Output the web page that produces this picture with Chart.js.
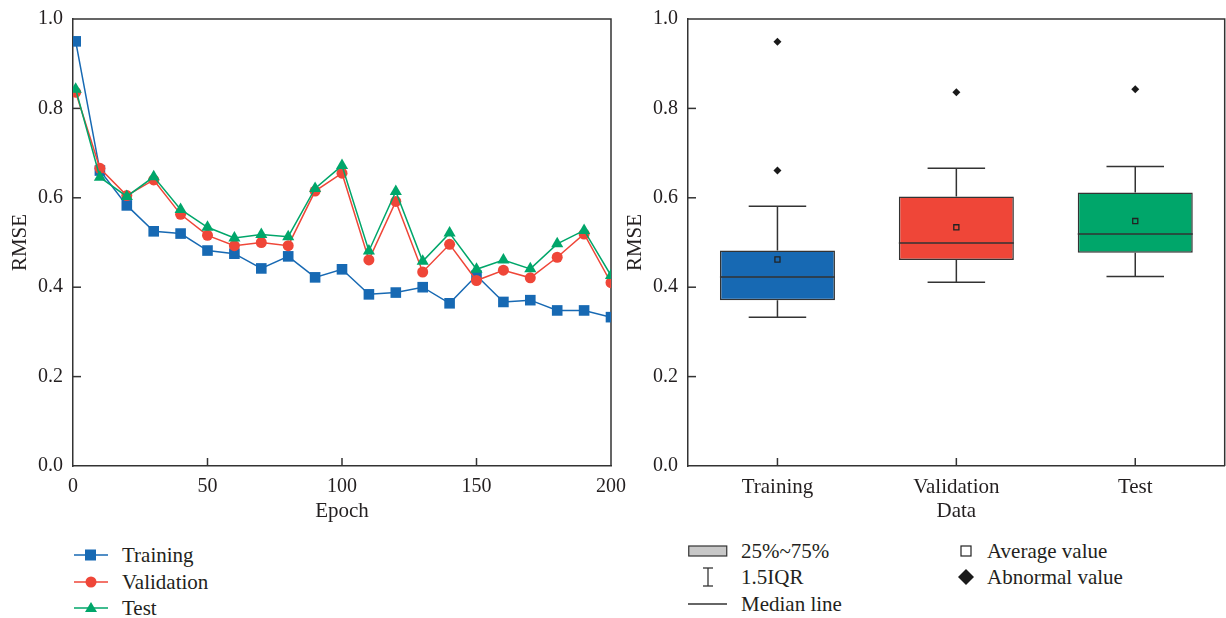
<!DOCTYPE html>
<html>
<head>
<meta charset="utf-8">
<script src="https://cdn.jsdelivr.net/npm/chart.js@4.4.0/dist/chart.umd.min.js"></script>
<style>
    body { margin: 0; background: #fff; width: 1226px; height: 618px; overflow: hidden; position: relative;
           font-family: 'Liberation Serif', serif; color: #231f20; }
    #lineWrap { position: absolute; left: 0; top: 0; width: 630px; height: 530px; }
    #boxWrap { position: absolute; left: 615px; top: 0; width: 615px; height: 530px; }
    .row { position: absolute; font-size: 21px; height: 26px; line-height: 26px; white-space: nowrap; }
    .row svg { position: absolute; top: 0; }
</style>
</head>
<body>
<div id="lineWrap"><canvas id="lineChart"></canvas></div>
<div id="boxWrap"><canvas id="boxChart"></canvas></div>

<!-- legend of the line chart -->
<div class="row" style="left:74px; top:542px;">
    <svg width="36" height="26"><line x1="0" y1="13" x2="34" y2="13" stroke="#1769b3" stroke-width="1.5"/><rect x="11" y="7.5" width="11" height="11" fill="#1769b3"/></svg>
    <span style="margin-left:48px">Training</span>
</div>
<div class="row" style="left:74px; top:569px;">
    <svg width="36" height="26"><line x1="0" y1="13" x2="34" y2="13" stroke="#ef4638" stroke-width="1.5"/><circle cx="17" cy="13" r="5.5" fill="#ef4638"/></svg>
    <span style="margin-left:48px">Validation</span>
</div>
<div class="row" style="left:74px; top:595px;">
    <svg width="36" height="26"><line x1="0" y1="13" x2="34" y2="13" stroke="#00a66a" stroke-width="1.5"/><polygon points="17,7 23,17 11,17" fill="#00a66a"/></svg>
    <span style="margin-left:48px">Test</span>
</div>

<!-- legend of the box chart -->
<div class="row" style="left:688px; top:538px;">
    <svg width="42" height="26"><rect x="0.75" y="8" width="38" height="10" fill="#c8c8c8" stroke="#333" stroke-width="1.2"/></svg>
    <span style="margin-left:53px">25%~75%</span>
</div>
<div class="row" style="left:688px; top:564px;">
    <svg width="42" height="26"><line x1="20" y1="4" x2="20" y2="22" stroke="#333" stroke-width="1.3"/><line x1="15" y1="4" x2="25" y2="4" stroke="#333" stroke-width="1.3"/><line x1="15" y1="22" x2="25" y2="22" stroke="#333" stroke-width="1.3"/></svg>
    <span style="margin-left:53px">1.5IQR</span>
</div>
<div class="row" style="left:688px; top:591px;">
    <svg width="42" height="26"><line x1="0" y1="13" x2="39" y2="13" stroke="#333" stroke-width="1.3"/></svg>
    <span style="margin-left:53px">Median line</span>
</div>
<div class="row" style="left:958px; top:538px;">
    <svg width="20" height="26"><rect x="3" y="8" width="10" height="10" fill="none" stroke="#222" stroke-width="1.2"/></svg>
    <span style="margin-left:29px">Average value</span>
</div>
<div class="row" style="left:958px; top:564px;">
    <svg width="20" height="26"><polygon points="8,5 16,13 8,21 0,13" fill="#1a1a1a"/></svg>
    <span style="margin-left:29px">Abnormal value</span>
</div>

<script>
// ============================================
// DATA
// ============================================

// Line chart: RMSE per epoch
const epochs = [1, 10, 20, 30, 40, 50, 60, 70, 80, 90, 100, 110, 120, 130, 140, 150, 160, 170, 180, 190, 200];
const trainingRmse = [0.950, 0.661, 0.583, 0.525, 0.520, 0.482, 0.475, 0.442, 0.469, 0.422, 0.440,
                      0.384, 0.388, 0.400, 0.364, 0.426, 0.367, 0.371, 0.348, 0.348, 0.333];
const validationRmse = [0.836, 0.666, 0.605, 0.640, 0.563, 0.516, 0.493, 0.500, 0.493, 0.615, 0.655,
                        0.461, 0.592, 0.434, 0.496, 0.415, 0.438, 0.421, 0.467, 0.519, 0.410];
const testRmse = [0.843, 0.646, 0.603, 0.647, 0.574, 0.534, 0.510, 0.518, 0.513, 0.621, 0.672,
                  0.481, 0.614, 0.458, 0.521, 0.440, 0.461, 0.441, 0.497, 0.527, 0.426];

// Box chart: statistics per data set
const categories = ['Training', 'Validation', 'Test'];
const boxQ1 = [0.371, 0.461, 0.477];
const boxQ3 = [0.482, 0.603, 0.612];
const boxMedian = [0.423, 0.499, 0.519];
const boxMean = [0.462, 0.534, 0.548];
const whiskerLow = [0.333, 0.411, 0.424];
const whiskerHigh = [0.581, 0.666, 0.670];
const outliers = [[0.949, 0.661], [0.836], [0.843]];

// Tick values
const yTicks = [0, 0.2, 0.4, 0.6, 0.8, 1.0];
const xTicks = [0, 50, 100, 150, 200];

// Colours
const BLUE = '#1769b3';
const RED = '#ef4638';
const GREEN = '#00a66a';
const AXIS = '#333333';
const TEXT = '#231f20';

Chart.defaults.font.family = "'Liberation Serif', serif";
Chart.defaults.font.size = 20;
Chart.defaults.color = TEXT;

const TITLE_FONT = { size: 21 };

// ============================================
// PLUGINS
// ============================================

// Frame around the plot area and short tick marks pointing inwards
const frameAndTicks = {
    id: 'frameAndTicks',
    beforeDatasetsDraw(chart) {
        const { ctx, chartArea: a, scales } = chart;
        ctx.save();
        ctx.strokeStyle = AXIS;
        ctx.lineWidth = 1.5;
        ctx.beginPath();
        ctx.moveTo(a.left, a.top);
        ctx.lineTo(a.right, a.top);
        ctx.lineTo(a.right, a.bottom);
        ctx.stroke();

        const len = 8;
        scales.x.ticks.forEach((t, i) => {
            const px = scales.x.getPixelForTick(i);
            if (px <= a.left + 1 || px >= a.right - 1) return;
            ctx.beginPath();
            ctx.moveTo(px, a.bottom);
            ctx.lineTo(px, a.bottom - len);
            ctx.stroke();
        });
        scales.y.ticks.forEach((t, i) => {
            const py = scales.y.getPixelForTick(i);
            if (py <= a.top + 1 || py >= a.bottom - 1) return;
            ctx.beginPath();
            ctx.moveTo(a.left, py);
            ctx.lineTo(a.left + len, py);
            ctx.stroke();
        });
        ctx.restore();
    }
};

// Whiskers, caps and median lines drawn right after the boxes
const boxExtras = {
    id: 'boxExtras',
    afterDatasetDraw(chart, args) {
        if (args.index !== 0) return;
        const { ctx, scales: { y } } = chart;
        const bars = args.meta.data;
        ctx.save();
        ctx.strokeStyle = AXIS;
        ctx.lineWidth = 1.5;
        bars.forEach((bar, i) => {
            const cx = bar.x;
            const half = bar.width / 2;
            const cap = bar.width / 4;
            const yHi = y.getPixelForValue(whiskerHigh[i]);
            const yLo = y.getPixelForValue(whiskerLow[i]);
            const yQ3 = y.getPixelForValue(boxQ3[i]);
            const yQ1 = y.getPixelForValue(boxQ1[i]);
            const yMed = y.getPixelForValue(boxMedian[i]);
            ctx.beginPath();
            ctx.moveTo(cx, yQ3); ctx.lineTo(cx, yHi);
            ctx.moveTo(cx - cap, yHi); ctx.lineTo(cx + cap, yHi);
            ctx.moveTo(cx, yQ1); ctx.lineTo(cx, yLo);
            ctx.moveTo(cx - cap, yLo); ctx.lineTo(cx + cap, yLo);
            ctx.moveTo(cx - half, yMed); ctx.lineTo(cx + half, yMed);
            ctx.stroke();
        });
        ctx.restore();
    }
};

// ============================================
// SHARED AXIS HELPERS
// ============================================

function yAxis() {
    return {
        min: 0,
        max: 1,
        afterBuildTicks: s => { s.ticks = yTicks.map(v => ({ value: v })); },
        afterFit: s => { s.width = 73; },
        ticks: { padding: 2, callback: v => Number(v).toFixed(1) },
        grid: { display: false },
        border: { color: AXIS, width: 1.5 },
        title: { display: true, text: 'RMSE', font: TITLE_FONT, padding: { top: 8, bottom: 0 } }
    };
}

function xAxisCommon(titleText) {
    return {
        afterFit: s => { s.height = 64; },
        grid: { display: false },
        border: { color: AXIS, width: 1.5 },
        title: { display: true, text: titleText, font: TITLE_FONT, padding: { top: 0, bottom: 6 } }
    };
}

// ============================================
// LINE CHART
// ============================================

function toPoints(values) {
    return epochs.map((e, i) => ({ x: e, y: values[i] }));
}

new Chart(document.getElementById('lineChart'), {
    type: 'line',
    data: {
        datasets: [
            { label: 'Training', data: toPoints(trainingRmse), borderColor: BLUE, backgroundColor: BLUE,
              borderWidth: 1.5, pointStyle: 'rect', pointRadius: 7.5, pointBorderWidth: 0, order: 2 },
            { label: 'Validation', data: toPoints(validationRmse), borderColor: RED, backgroundColor: RED,
              borderWidth: 1.5, pointStyle: 'circle', pointRadius: 5.5, pointBorderWidth: 0, order: 1 },
            { label: 'Test', data: toPoints(testRmse), borderColor: GREEN, backgroundColor: GREEN,
              borderWidth: 1.5, pointStyle: 'triangle', pointRadius: 7, pointBorderWidth: 0, order: 0 }
        ]
    },
    options: {
        responsive: true,
        maintainAspectRatio: false,
        animation: false,
        layout: { padding: { top: 19, right: 19, left: 0, bottom: 0 } },
        plugins: { legend: { display: false }, tooltip: { enabled: false } },
        scales: {
            x: Object.assign(xAxisCommon('Epoch'), {
                type: 'linear',
                min: 0,
                max: 200,
                afterBuildTicks: s => { s.ticks = xTicks.map(v => ({ value: v })); },
                ticks: { padding: 1 }
            }),
            y: yAxis()
        }
    },
    plugins: [frameAndTicks]
});

// ============================================
// BOX CHART
// ============================================

new Chart(document.getElementById('boxChart'), {
    type: 'bar',
    data: {
        labels: categories,
        datasets: [
            {
                label: '25%~75%',
                data: categories.map((c, i) => [boxQ1[i], boxQ3[i]]),
                backgroundColor: [BLUE, RED, GREEN],
                borderColor: AXIS,
                borderWidth: 1.5,
                borderSkipped: false,
                barPercentage: 0.643,
                categoryPercentage: 1,
                order: 3
            },
            {
                type: 'line',
                label: 'Average value',
                data: categories.map((c, i) => ({ x: c, y: boxMean[i] })),
                showLine: false,
                pointStyle: 'rect',
                pointRadius: 3.6,
                pointBackgroundColor: 'rgba(0,0,0,0)',
                pointBorderColor: '#222',
                pointBorderWidth: 1.3,
                order: 1
            },
            {
                type: 'line',
                label: 'Abnormal value',
                data: categories.flatMap((c, i) => outliers[i].map(v => ({ x: c, y: v }))),
                showLine: false,
                pointStyle: 'rectRot',
                pointRadius: 4,
                pointBackgroundColor: '#1a1a1a',
                pointBorderWidth: 0,
                order: 0
            }
        ]
    },
    options: {
        responsive: true,
        maintainAspectRatio: false,
        animation: false,
        layout: { padding: { top: 19, right: 4, left: 0, bottom: 0 } },
        plugins: { legend: { display: false }, tooltip: { enabled: false } },
        scales: {
            x: Object.assign(xAxisCommon('Data'), {
                type: 'category',
                offset: true,
                ticks: { padding: 1, font: TITLE_FONT }
            }),
            y: yAxis()
        }
    },
    plugins: [frameAndTicks, boxExtras]
});
</script>
</body>
</html>
